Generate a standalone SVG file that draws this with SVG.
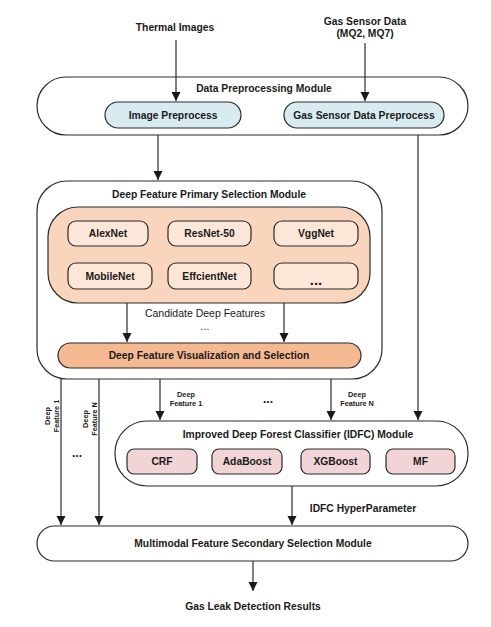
<svg xmlns="http://www.w3.org/2000/svg" width="491" height="627" viewBox="0 0 491 627">
<defs>
<marker id="ah" markerWidth="10" markerHeight="10" refX="9" refY="5" orient="auto" markerUnits="userSpaceOnUse">
<path d="M0,0.5 L9,5 L0,9.5 Z" fill="#1a1a1a"/>
</marker>
</defs>
<style>
text{font-family:"Liberation Sans",Arial,sans-serif;fill:#1a1a1a;text-anchor:middle;dominant-baseline:central}
.b{font-weight:bold;font-size:10.3px}
.r{font-size:10.5px}
.s{font-weight:bold;font-size:7.3px}
.mod{fill:#fff;stroke:#2a2a2a;stroke-width:1.2}
.blue{fill:#d8ebf1;stroke:#2a2a2a;stroke-width:1.2}
.peach{fill:#f8d5bc;stroke:#2a2a2a;stroke-width:1.2}
.lpeach{fill:#fce6d7;stroke:#2a2a2a;stroke-width:1.2}
.orange{fill:#f5b992;stroke:#2a2a2a;stroke-width:1.2}
.pink{fill:#f1d5d6;stroke:#2a2a2a;stroke-width:1.2}
.c{stroke:#2a2a2a;stroke-width:1.2;fill:none;marker-end:url(#ah)}
</style>
<rect width="491" height="627" fill="#fff"/>

<g id="inputs">
<text class="b" x="175" y="27">Thermal Images</text>
<text class="b" x="365" y="21">Gas Sensor Data</text>
<text class="b" x="365" y="33">(MQ2, MQ7)</text>
</g>

<g id="data-preprocessing">
<rect class="mod" x="37" y="77" width="431" height="58" rx="29"/>
<text class="b" x="264" y="88">Data Preprocessing Module</text>
</g>
<g id="image-preprocess">
<rect class="blue" x="105" y="102" width="136" height="26" rx="13"/>
<text class="b" x="173" y="115">Image Preprocess</text>
</g>
<g id="gas-preprocess">
<rect class="blue" x="284" y="102" width="160" height="26" rx="13"/>
<text class="b" x="364" y="115">Gas Sensor Data Preprocess</text>
</g>

<g id="primary-selection">
<rect class="mod" x="37" y="181" width="345" height="198" rx="30"/>
<text class="b" x="209" y="194">Deep Feature Primary Selection Module</text>
</g>
<g id="cnn-pool">
<rect class="peach" x="48" y="207" width="322" height="96" rx="30"/>
</g>
<g id="alexnet"><rect class="lpeach" x="68" y="221" width="80" height="25" rx="8"/><text class="b" x="108" y="233.5">AlexNet</text></g>
<g id="resnet"><rect class="lpeach" x="168" y="221" width="83" height="25" rx="8"/><text class="b" x="209.5" y="233.5">ResNet-50</text></g>
<g id="vggnet"><rect class="lpeach" x="274" y="221" width="84" height="25" rx="8"/><text class="b" x="316" y="233.5">VggNet</text></g>
<g id="mobilenet"><rect class="lpeach" x="68" y="263" width="84" height="26" rx="8"/><text class="b" x="110" y="276">MobileNet</text></g>
<g id="efficientnet"><rect class="lpeach" x="168" y="263" width="83" height="26" rx="8"/><text class="b" x="209.5" y="276">EffcientNet</text></g>
<g id="more-cnn"><rect class="lpeach" x="274" y="263" width="84" height="26" rx="8"/><text class="b" x="316" y="279" style="font-size:15px">...</text></g>
<g id="visualization">
<rect class="orange" x="58" y="343" width="303" height="25" rx="12.5"/>
<text class="b" x="209" y="355.5">Deep Feature Visualization and Selection</text>
</g>

<g id="idfc">
<rect class="mod" x="115" y="421" width="353" height="65" rx="32"/>
<text class="b" x="298" y="434">Improved Deep Forest Classifier (IDFC) Module</text>
</g>
<g id="crf"><rect class="pink" x="127" y="449" width="70" height="25" rx="7"/><text class="b" x="162" y="461.5">CRF</text></g>
<g id="adaboost"><rect class="pink" x="212" y="449" width="70" height="25" rx="7"/><text class="b" x="247" y="461.5">AdaBoost</text></g>
<g id="xgboost"><rect class="pink" x="301" y="449" width="69" height="25" rx="7"/><text class="b" x="335.5" y="461.5">XGBoost</text></g>
<g id="mf"><rect class="pink" x="386" y="449" width="69" height="25" rx="7"/><text class="b" x="420.5" y="461.5">MF</text></g>

<g id="secondary-selection">
<rect class="mod" x="37" y="526" width="431" height="35" rx="17.5"/>
<text class="b" x="253" y="543.5">Multimodal Feature Secondary Selection Module</text>
</g>

<g id="output">
<text class="b" x="253" y="606">Gas Leak Detection Results</text>
</g>

<g id="connectors">
<line class="c" x1="176" y1="40" x2="176" y2="101"/>
<line class="c" x1="365" y1="43" x2="365" y2="101"/>
<line class="c" x1="158" y1="135" x2="158" y2="180"/>
<line class="c" x1="418" y1="135" x2="418" y2="420"/>
<line class="c" x1="127" y1="303" x2="127" y2="342"/>
<line class="c" x1="284" y1="303" x2="284" y2="342"/>
<line class="c" x1="61" y1="379" x2="61" y2="525"/>
<line class="c" x1="99" y1="379" x2="99" y2="525"/>
<line class="c" x1="160" y1="379" x2="160" y2="420"/>
<line class="c" x1="331" y1="379" x2="331" y2="420"/>
<line class="c" x1="292" y1="486" x2="292" y2="525"/>
<line class="c" x1="253" y1="561" x2="253" y2="591"/>
</g>

<g id="connector-labels">
<text class="r" x="205" y="313">Candidate Deep Features</text>
<text class="r" x="205" y="326">...</text>
<text class="s" x="186" y="394">Deep</text>
<text class="s" x="186" y="403.5">Feature 1</text>
<text class="s" x="357" y="394">Deep</text>
<text class="s" x="357" y="403.5">Feature N</text>
<text class="b" x="268" y="399" style="font-size:12px">...</text>
<text class="s" transform="translate(47,416) rotate(-90)">Deep</text>
<text class="s" transform="translate(56.5,416) rotate(-90)">Feature 1</text>
<text class="s" transform="translate(85,419) rotate(-90)">Deep</text>
<text class="s" transform="translate(94.5,419) rotate(-90)">Feature N</text>
<text class="b" x="77" y="453" style="font-size:12px">...</text>
<text class="b" x="363" y="508">IDFC HyperParameter</text>
</g>
</svg>
